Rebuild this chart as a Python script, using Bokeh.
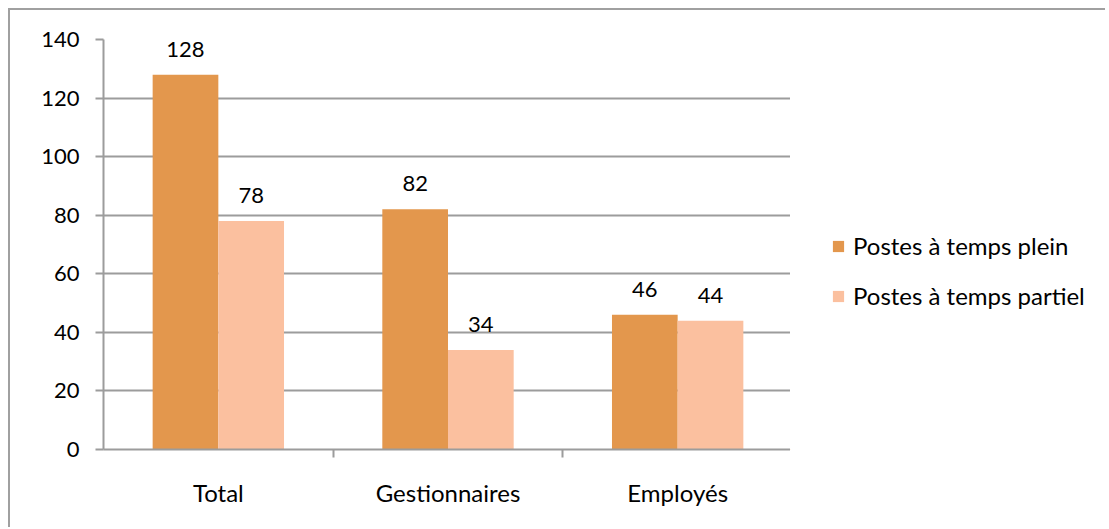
from bokeh.plotting import figure
from bokeh.layouts import row
from bokeh.models import (ColumnDataSource, FactorRange, Range1d, CategoricalAxis,
                          FixedTicker, LabelSet, Legend, LegendItem, CategoricalScale)
from bokeh.core.properties import value
from bokeh.transform import dodge
from bokeh.embed import file_html
from bokeh.resources import INLINE

categories = ["Total", "Gestionnaires", "Employés"]
plein = [128, 82, 46]
partiel = [78, 34, 44]
series_names = ["Postes à temps plein", "Postes à temps partiel"]
y_ticks = [0, 20, 40, 60, 80, 100, 120, 140]

ORANGE = "#E3974D"
PEACH = "#FBC09F"
GRID = "#9c9c9c"
BORDER = "2px solid #a0a0a0"
FONT = "Lato"

src = ColumnDataSource(dict(cat=categories, plein=plein, partiel=partiel,
                            plein_txt=[str(v) for v in plein],
                            partiel_txt=[str(v) for v in partiel]))

p = figure(width=782, height=519, x_range=FactorRange(factors=categories, range_padding=0),
           y_range=Range1d(0, 140), output_backend="svg", toolbar_location=None,
           x_axis_location=None, min_border_left=93, min_border_top=29,
           min_border_bottom=80, min_border_right=0)
p.margin = (8, 0, 0, 8)
p.styles = {"border-top": BORDER, "border-left": BORDER}
p.outline_line_color = None
p.background_fill_color = "white"
p.border_fill_color = "white"

# y axis
ya = p.yaxis[0]
ya.ticker = FixedTicker(ticks=y_ticks)
ya.axis_line_color = GRID
ya.axis_line_width = 2
ya.major_tick_line_color = GRID
ya.major_tick_line_width = 2
ya.major_tick_out = 8
ya.major_tick_in = 0
ya.minor_tick_line_color = None
ya.major_label_text_font = FONT
ya.major_label_text_font_size = "22px"
ya.major_label_text_color = "black"
ya.major_label_standoff = 16

p.xgrid.grid_line_color = None
p.ygrid.ticker = FixedTicker(ticks=y_ticks)
p.ygrid.grid_line_color = GRID
p.ygrid.grid_line_width = 2

# x axis tick marks at category boundaries (one factor per boundary)
boundaries = ["b%d" % i for i in range(len(categories) + 1)]
p.extra_x_ranges = {"edges": FactorRange(factors=boundaries, range_padding=-0.25,
                                         range_padding_units="percent")}
p.extra_x_scales = {"edges": CategoricalScale()}
xa_ticks = CategoricalAxis(x_range_name="edges")
xa_ticks.axis_line_color = GRID
xa_ticks.axis_line_width = 2
xa_ticks.major_tick_line_color = GRID
xa_ticks.major_tick_line_width = 2
xa_ticks.major_tick_out = 8
xa_ticks.major_tick_in = 0
xa_ticks.minor_tick_line_color = None
xa_ticks.major_label_text_font_size = "0px"
xa_ticks.major_label_text_alpha = 0
xa_ticks.major_label_standoff = 0
p.add_layout(xa_ticks, "below")

xa = CategoricalAxis()
xa.axis_line_color = None
xa.major_tick_line_color = None
xa.minor_tick_line_color = None
xa.major_label_text_font = FONT
xa.major_label_text_font_size = "24px"
xa.major_label_text_color = "black"
xa.major_label_standoff = 14
p.add_layout(xa, "below")

bw = 0.286
p.vbar(x=dodge("cat", -bw / 2, range=p.x_range), top="plein", width=bw, source=src,
       fill_color=ORANGE, line_color=None)
p.vbar(x=dodge("cat", bw / 2, range=p.x_range), top="partiel", width=bw, source=src,
       fill_color=PEACH, line_color=None)

for col, txt, off in (("plein", "plein_txt", -bw / 2), ("partiel", "partiel_txt", bw / 2)):
    p.add_layout(LabelSet(x=dodge("cat", off, range=p.x_range), y=col, text=txt, source=src,
                          text_align="center", text_baseline="bottom", y_offset=18,
                          text_font=value(FONT), text_font_size=value("22px"),
                          text_color="black"))

# legend panel (separate canvas to the right of the plot area)
pl = figure(width=315, height=519, x_range=Range1d(0, 1), y_range=Range1d(0, 1),
            output_backend="svg", toolbar_location=None, x_axis_location=None,
            y_axis_location=None, min_border=0)
pl.margin = (8, 0, 0, 0)
pl.styles = {"border-top": BORDER}
pl.outline_line_color = None
pl.grid.visible = False
pl.background_fill_color = "white"
pl.border_fill_color = "white"
# legend proxies: one swatch each, placed outside the visible range of this panel
k1 = pl.vbar(x=[-1], top=[-1], bottom=[-2], width=0.1, fill_color=ORANGE, line_color=None)
k2 = pl.vbar(x=[-1], top=[-1], bottom=[-2], width=0.1, fill_color=PEACH, line_color=None)

legend = Legend(items=[LegendItem(label=series_names[0], renderers=[k1]),
                       LegendItem(label=series_names[1], renderers=[k2])],
                location=(41, 139), orientation="vertical")
legend.border_line_color = None
legend.background_fill_alpha = 0
legend.margin = 0
legend.padding = 0
legend.glyph_width = 14
legend.glyph_height = 14
legend.label_standoff = 8
legend.label_height = 28
legend.spacing = 21
legend.label_text_font = FONT
legend.label_text_font_size = "24px"
legend.label_text_color = "black"
pl.add_layout(legend, "center")

layout = row(p, pl)
open("out.html", "w").write(file_html(layout, INLINE))
